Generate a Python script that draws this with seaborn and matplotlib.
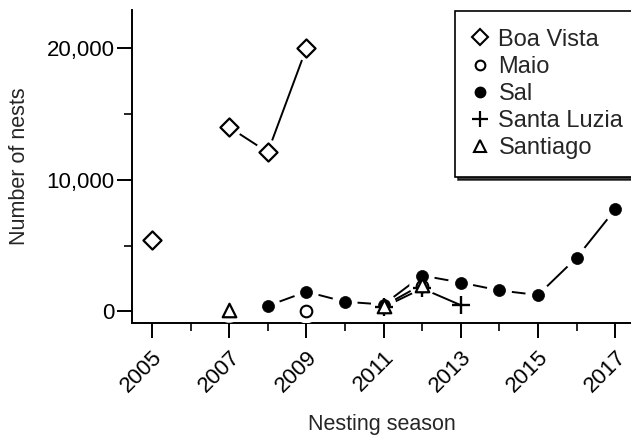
import numpy as np
import pandas as pd
import matplotlib
matplotlib.use("Agg")
import matplotlib.pyplot as plt
from matplotlib.lines import Line2D
from matplotlib.ticker import FuncFormatter, MultipleLocator
import seaborn as sns

sns.set_theme(style="ticks")
plt.rcParams['font.family'] = ['Liberation Sans', 'DejaVu Sans']

# ---- data ----
boa_years = [2005, 2007, 2008, 2009]
boa_nests = [5400, 14000, 12100, 20000]
maio_years = [2009, 2012]
maio_nests = [60, 1950]
sal_years = [2008, 2009, 2010, 2011, 2012, 2013, 2014, 2015, 2016, 2017]
sal_nests = [430, 1500, 740, 530, 2730, 2200, 1600, 1250, 4080, 7750]
luzia_years = [2011, 2012, 2013]
luzia_nests = [330, 1750, 480]
santiago_years = [2007, 2011, 2012]
santiago_nests = [100, 420, 2050]

series = [
    ("Boa Vista", boa_years, boa_nests, dict(marker="D", s=85, facecolor="white", linewidth=1.6)),
    ("Maio", maio_years, maio_nests, dict(marker="o", s=70, facecolor="white", linewidth=1.5)),
    ("Sal", sal_years, sal_nests, dict(marker="o", s=75, facecolor="black", linewidth=0.5)),
    ("Santa Luzia", luzia_years, luzia_nests, dict(marker="+", s=150, facecolor="black", linewidth=1.7)),
    ("Santiago", santiago_years, santiago_nests, dict(marker="^", s=95, facecolor="white", linewidth=1.6)),
]

fig = plt.figure(figsize=(6.31, 4.38), dpi=100)
ax = fig.add_axes([0.209, 0.263, 0.791, 0.714])

# lines (only between consecutive years)
for name, yrs, vals, st in series:
    df = pd.DataFrame({"year": yrs, "nests": vals})
    df["seg"] = (df["year"].diff() != 1).cumsum()
    for _, g in df.groupby("seg"):
        if len(g) > 1:
            sns.lineplot(data=g, x="year", y="nests", color="black", lw=1.4,
                         ax=ax, estimator=None, sort=False, zorder=2)

# white halos to create gaps around markers
for name, yrs, vals, st in series:
    if st["marker"] == "+":
        continue
    df = pd.DataFrame({"year": yrs, "nests": vals})
    sns.scatterplot(data=df, x="year", y="nests", marker="o", s=330,
                    color="white", edgecolor="none", linewidth=0, ax=ax, zorder=3)

# markers
for i, (name, yrs, vals, st) in enumerate(series):
    df = pd.DataFrame({"year": yrs, "nests": vals})
    kw = dict(marker=st["marker"], s=st["s"], linewidth=st["linewidth"], zorder=4 + i)
    if st["marker"] == "+":
        sns.scatterplot(data=df, x="year", y="nests", color="black", ax=ax, **kw)
    else:
        sns.scatterplot(data=df, x="year", y="nests", color=st["facecolor"],
                        edgecolor="black", ax=ax, **kw)

ax.set_xlim(2004.48, 2017.41)
ax.set_ylim(-860, 22900)

ax.set_xticks(list(range(2005, 2018, 2)))
ax.xaxis.set_minor_locator(MultipleLocator(1))
ax.set_yticks([0, 10000, 20000])
ax.yaxis.set_minor_locator(MultipleLocator(5000))
ax.yaxis.set_major_formatter(FuncFormatter(lambda v, p: f"{int(v):,}"))

ax.tick_params(axis="both", which="major", direction="out", length=10.5, width=1.4,
               labelsize=16, colors="black", pad=2)
ax.tick_params(axis="both", which="minor", direction="out", length=5.5, width=1.4)
ax.tick_params(axis="x", which="major", pad=6.5)
for lab in ax.get_xticklabels():
    lab.set_rotation(45)
    lab.set_ha("right")
    lab.set_rotation_mode("anchor")

for s in ["top", "right"]:
    ax.spines[s].set_visible(False)
for s in ["left", "bottom"]:
    ax.spines[s].set_linewidth(1.4)
    ax.spines[s].set_color("black")

ax.set_xlabel("Nesting season", fontsize=15.5, labelpad=13)
ax.set_ylabel("Number of nests", fontsize=15.5, labelpad=12)

handles = []
for name, yrs, vals, st in series:
    if st["marker"] == "+":
        h = Line2D([], [], ls="none", marker="+", markersize=12, color="black", markeredgewidth=1.6)
    else:
        ms = {"Boa Vista": 8, "Maio": 7, "Sal": 7, "Santiago": 8}[name]
        h = Line2D([], [], ls="none", marker=st["marker"], markersize=ms,
                   markerfacecolor=st["facecolor"], markeredgecolor="black", markeredgewidth=1.5)
    handles.append(h)
leg = ax.legend(handles, [s[0] for s in series], loc="upper right",
                bbox_to_anchor=(1.02, 0.997), fontsize=17, frameon=True, fancybox=False,
                edgecolor="black", handlelength=0.6, handletextpad=0.47,
                labelspacing=0.22, borderpad=0.75, borderaxespad=0,
                shadow={"color": "black", "alpha": 0.75})
leg.get_frame().set_linewidth(1.2)
leg.set_clip_on(False)

fig.savefig("out.png", dpi=100)
